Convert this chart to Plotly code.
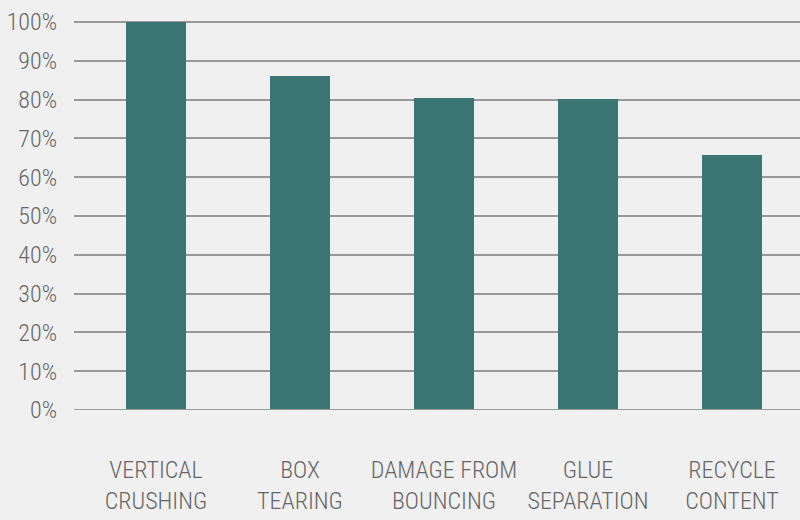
import plotly.graph_objects as go

categories = ["VERTICAL<br>CRUSHING", "BOX<br>TEARING", "DAMAGE FROM<br>BOUNCING", "GLUE<br>SEPARATION", "RECYCLE<br>CONTENT"]
values = [100, 86, 80.5, 80.2, 65.8]
tick_vals = [0, 10, 20, 30, 40, 50, 60, 70, 80, 90, 100]
tick_text = [f"{v}%" for v in tick_vals]

FONT = "Roboto Condensed, DejaVu Sans Condensed, sans-serif"

fig = go.Figure()
fig.add_trace(go.Bar(
    x=list(range(len(categories))), y=values,
    marker=dict(color="#3b7574", line=dict(width=0)),
    width=0.417,
))

fig.add_shape(type="line", xref="paper", x0=0, x1=1, yref="y", y0=0, y1=0,
              line=dict(color="#999999", width=2), layer="above")

fig.update_layout(
    width=800, height=520,
    margin=dict(l=74, r=0, t=12, b=110),
    paper_bgcolor="#f0f0f0", plot_bgcolor="#f0f0f0",
    showlegend=False,
    font=dict(family=FONT, color="#666666", size=24, weight=300),
    bargap=0,
)
fig.update_xaxes(
    range=[-0.569, 4.472],
    tickvals=list(range(len(categories))), ticktext=categories,
    showgrid=False, zeroline=False, showline=False, ticks="",
    tickfont=dict(size=24, color="#666666", family=FONT, weight=300),
    ticklabelstandoff=43,
)
fig.update_yaxes(
    range=[0, 102.58],
    tickvals=tick_vals, ticktext=tick_text,
    showgrid=True, gridcolor="#999999", gridwidth=2,
    zeroline=False, showline=False, ticks="",
    tickfont=dict(size=24, color="#666666", family=FONT, weight=300),
    ticklabelstandoff=16,
)

fig.write_html("out.html")
